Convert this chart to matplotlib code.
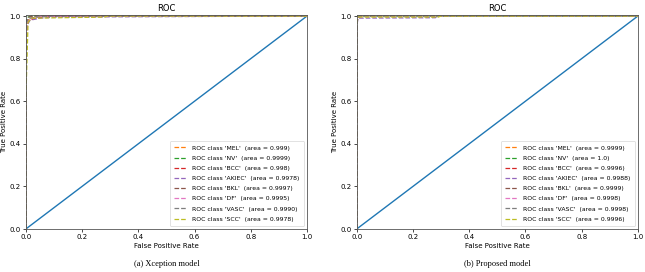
import matplotlib
matplotlib.use('Agg')
import matplotlib.pyplot as plt

### DATA ###
classes = ['MEL', 'NV', 'BCC', 'AKIEC', 'BKL', 'DF', 'VASC', 'SCC']

xc_auc = ['0.999', '0.9999', '0.998', '0.9978', '0.9997', '0.9995', '0.9990', '0.9978']
pr_auc = ['0.9999', '1.0', '0.9996', '0.9988', '0.9999', '0.9998', '0.9998', '0.9996']

# Xception ROC points (fpr, tpr)
xc_fpr = [
    [0.0, 0.0, 0.004, 0.01, 0.03, 0.06, 1.0],
    [0.0, 0.0, 0.003, 0.008, 0.02, 1.0],
    [0.0, 0.0, 0.005, 0.01, 0.04, 0.08, 1.0],
    [0.0, 0.0, 0.006, 0.015, 0.05, 0.10, 1.0],
    [0.0, 0.0, 0.004, 0.01, 0.03, 1.0],
    [0.0, 0.0, 0.005, 0.02, 0.06, 1.0],
    [0.0, 0.0, 0.003, 0.01, 0.04, 0.09, 1.0],
    [0.0, 0.0, 0.008, 0.02, 0.28, 0.29, 1.0],
]
xc_tpr = [
    [0.0, 0.90, 0.96, 0.985, 0.993, 1.0, 1.0],
    [0.0, 0.95, 0.985, 0.995, 1.0, 1.0],
    [0.0, 0.88, 0.95, 0.98, 0.99, 1.0, 1.0],
    [0.0, 0.90, 0.96, 0.98, 0.99, 0.995, 1.0],
    [0.0, 0.93, 0.98, 0.995, 1.0, 1.0],
    [0.0, 0.92, 0.97, 0.99, 1.0, 1.0],
    [0.0, 0.94, 0.97, 0.99, 0.995, 1.0, 1.0],
    [0.0, 0.60, 0.97, 0.99, 0.995, 1.0, 1.0],
]

# Proposed model ROC points
pr_fpr = [
    [0.0, 0.0, 0.003, 0.01, 1.0],
    [0.0, 0.0, 0.002, 1.0],
    [0.0, 0.0, 0.004, 0.02, 1.0],
    [0.0, 0.0, 0.005, 0.28, 0.29, 1.0],
    [0.0, 0.0, 0.003, 0.01, 1.0],
    [0.0, 0.0, 0.004, 0.015, 1.0],
    [0.0, 0.0, 0.003, 0.015, 1.0],
    [0.0, 0.0, 0.005, 0.29, 0.30, 1.0],
]
pr_tpr = [
    [0.0, 0.97, 0.995, 1.0, 1.0],
    [0.0, 0.99, 1.0, 1.0],
    [0.0, 0.96, 0.993, 1.0, 1.0],
    [0.0, 0.95, 0.99, 0.992, 1.0, 1.0],
    [0.0, 0.97, 0.995, 1.0, 1.0],
    [0.0, 0.97, 0.995, 1.0, 1.0],
    [0.0, 0.97, 0.995, 1.0, 1.0],
    [0.0, 0.96, 0.995, 0.995, 1.0, 1.0],
]

colors = ['tab:orange', 'tab:green', 'tab:red', 'tab:purple',
          'tab:brown', 'tab:pink', 'tab:gray', 'tab:olive']

### PLOT ###
fig = plt.figure(figsize=(6.45, 2.72), dpi=100)
ax1 = fig.add_axes([0.040, 0.158, 0.436, 0.787])
ax2 = fig.add_axes([0.553, 0.158, 0.436, 0.787])


def draw(ax, fprs, tprs, aucs, caption):
    ax.plot([0, 1], [0, 1], color='tab:blue', lw=1.0)
    for i, c in enumerate(classes):
        ax.plot(fprs[i], tprs[i], '--', color=colors[i], lw=0.9,
                label="ROC class '%s'  (area = %s)" % (c, aucs[i]))
    ax.set_xlim(0, 1)
    ax.set_ylim(0, 1.005)
    ax.set_title('ROC', fontsize=6, pad=3)
    ax.set_xlabel('False Positive Rate', fontsize=5, labelpad=2)
    ax.set_ylabel('True Positive Rate', fontsize=5, labelpad=2)
    ax.tick_params(labelsize=5, length=2, width=0.5, pad=1.5)
    for s in ax.spines.values():
        s.set_linewidth(0.6)
        s.set_color('#555555')
    leg = ax.legend(loc='lower right', fontsize=4.4, handlelength=2.2,
                    labelspacing=0.8, borderpad=0.7, framealpha=1)
    leg.get_frame().set_linewidth(0.4)
    # caption under each panel, placed in figure coordinates
    pos = ax.get_position()
    fig.text((pos.x0 + pos.x1) / 2, 0.028, caption, ha='center',
             va='center', fontsize=6, family='Liberation Serif')


draw(ax1, xc_fpr, xc_tpr, xc_auc, '(a) Xception model')
draw(ax2, pr_fpr, pr_tpr, pr_auc, '(b) Proposed model')

fig.savefig('out.png', dpi=100)
